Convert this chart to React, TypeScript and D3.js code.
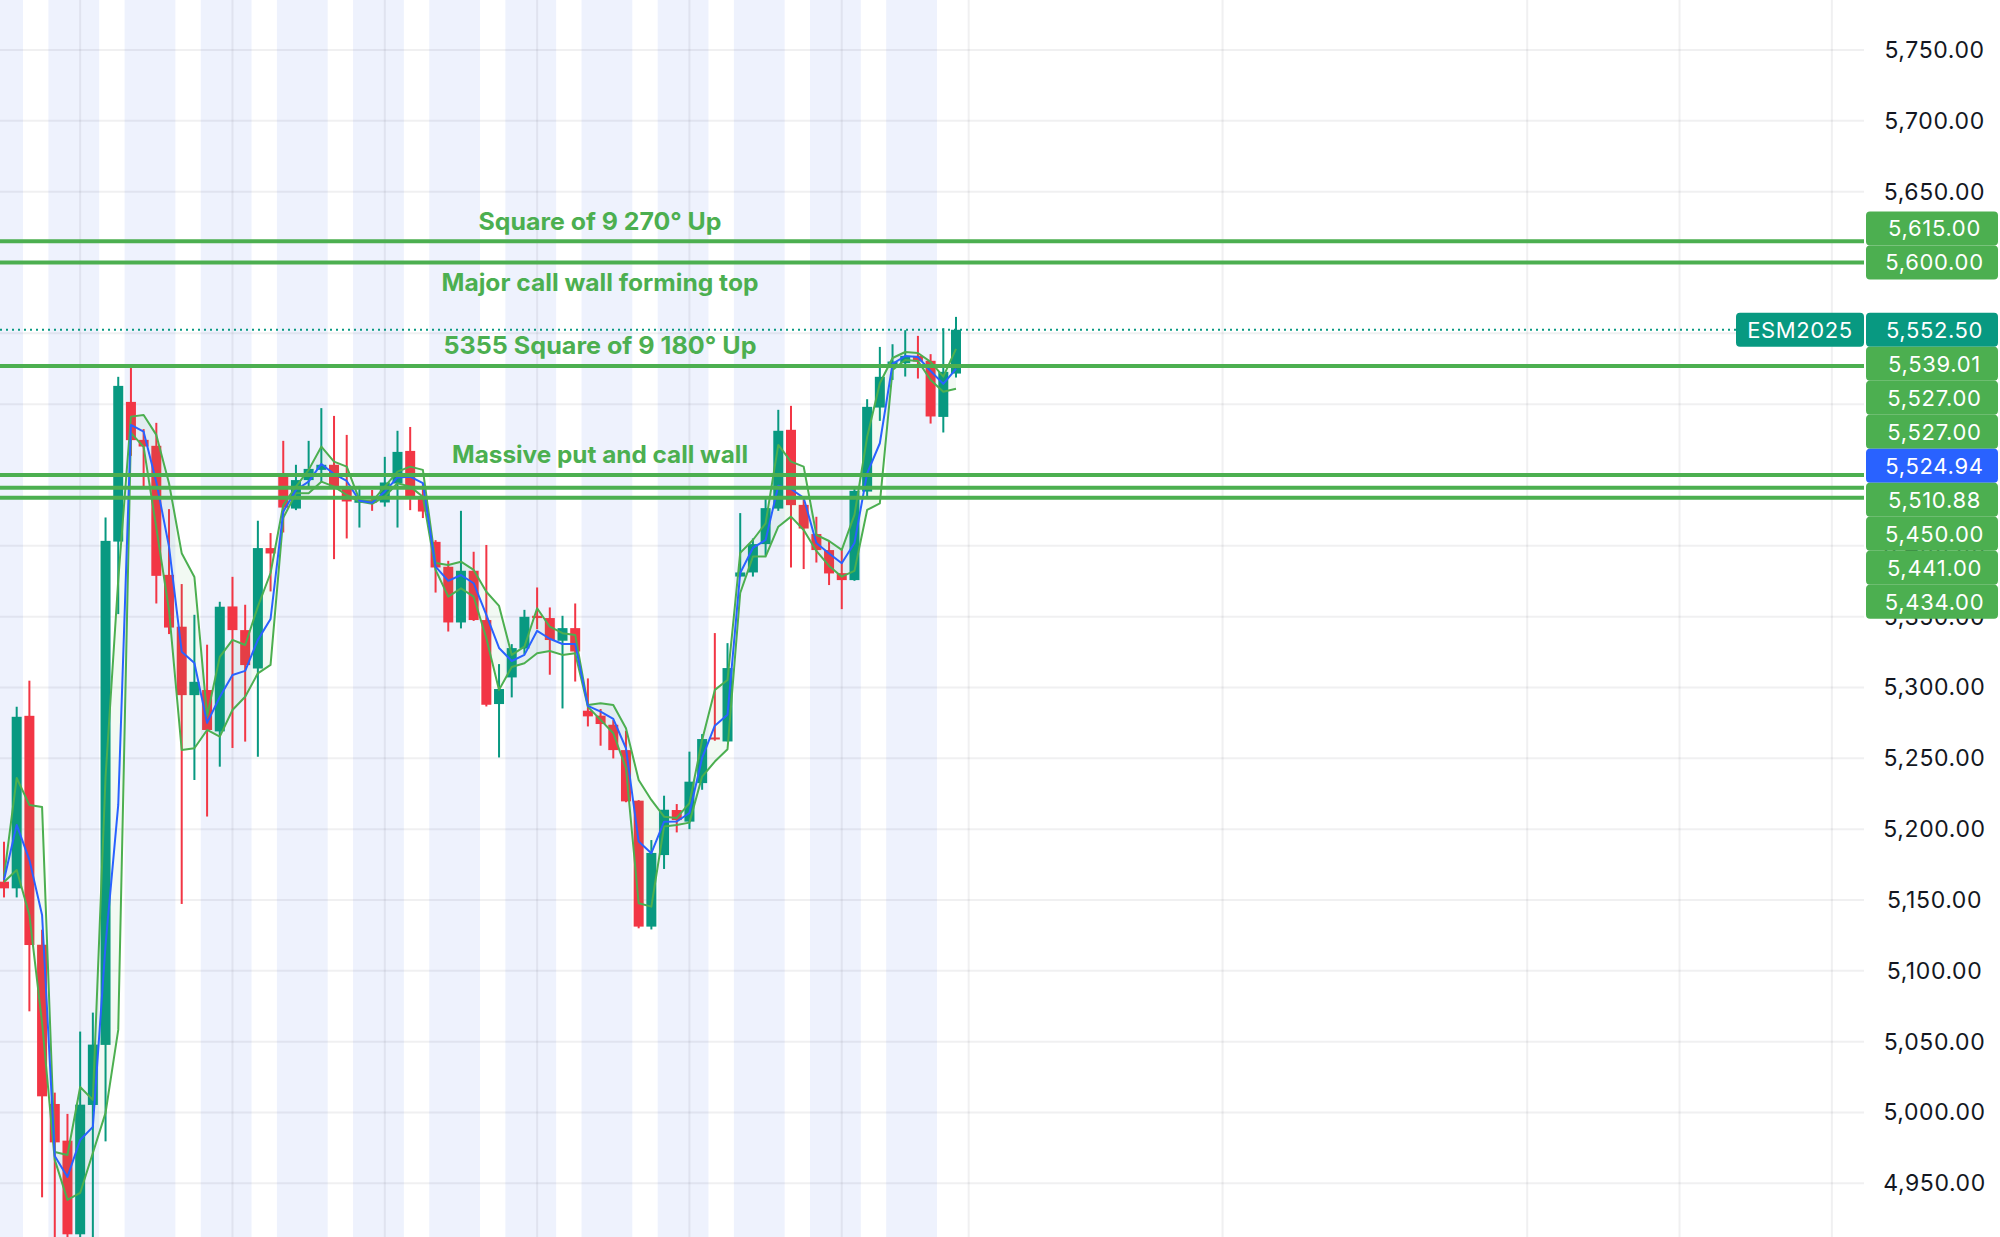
import React from 'react';
import * as d3 from 'd3';

// ---------- DATA ----------
const opens = [5162.9, 5158.2, 5280.0, 5118.4, 5006.0, 4980.1, 4914.0, 5005.3, 5047.7, 5403.0,
  5501.6, 5474.8, 5470.6, 5379.5, 5342.9, 5294.6, 5298.2, 5269.0, 5357.2, 5340.5,
  5313.4, 5398.4, 5451.3, 5426.3, 5446.4, 5453.6, 5457.2, 5441.6, 5430.4, 5432.2,
  5430.6, 5444.0, 5467.0, 5434.6, 5402.8, 5385.2, 5345.9, 5382.4, 5347.6, 5288.3,
  5307.1, 5327.5, 5350.6, 5349.0, 5333.0, 5341.9, 5283.6, 5280.1, 5273.7, 5255.8,
  5220.1, 5131.2, 5181.7, 5213.5, 5205.3, 5232.5, 5264.7, 5261.9, 5378.3, 5381.2,
  5401.2, 5426.3, 5481.9, 5428.9, 5408.3, 5397.0, 5380.7, 5375.8, 5438.3, 5497.6,
  5528.2, 5528.9, 5534.1, 5530.6, 5491.0, 5521.6];
const highs = [5191.1, 5286.4, 5304.8, 5129.0, 5014.0, 4999.0, 5057.1, 5070.5, 5420.0, 5519.3,
  5527.7, 5482.4, 5486.8, 5425.9, 5373.0, 5351.3, 5330.2, 5360.5, 5378.1, 5358.4,
  5417.7, 5409.0, 5474.1, 5457.2, 5474.1, 5497.2, 5491.7, 5478.3, 5442.3, 5439.4,
  5462.8, 5481.2, 5483.9, 5444.0, 5404.0, 5389.4, 5424.7, 5395.8, 5400.6, 5316.5,
  5330.6, 5354.8, 5370.6, 5356.5, 5350.6, 5359.3, 5306.4, 5284.8, 5277.0, 5269.4,
  5220.5, 5192.3, 5223.6, 5217.7, 5254.7, 5267.1, 5338.4, 5331.3, 5423.1, 5405.2,
  5433.7, 5496.0, 5498.8, 5434.6, 5420.5, 5403.5, 5397.7, 5441.1, 5503.5, 5540.4,
  5542.3, 5552.2, 5548.2, 5535.3, 5553.6, 5561.6];
const lows = [5151.8, 5151.8, 5071.4, 4940.1, 4900.0, 4905.0, 4905.0, 4895.0, 4979.6, 5351.8,
  5463.5, 5440.7, 5359.3, 5337.7, 5147.2, 5234.7, 5208.9, 5244.1, 5257.3, 5261.8,
  5251.1, 5367.8, 5409.4, 5425.2, 5441.1, 5444.7, 5390.6, 5405.2, 5412.9, 5424.7,
  5427.7, 5412.9, 5425.2, 5419.6, 5367.0, 5339.5, 5341.7, 5347.0, 5286.6, 5250.6,
  5293.0, 5323.6, 5341.2, 5309.0, 5285.2, 5304.2, 5272.5, 5258.9, 5249.9, 5219.0,
  5130.0, 5129.2, 5171.9, 5197.7, 5200.0, 5227.8, 5262.4, 5261.9, 5378.3, 5378.3,
  5393.0, 5424.7, 5384.7, 5383.6, 5388.2, 5372.3, 5355.3, 5375.3, 5434.1, 5488.2,
  5517.1, 5519.5, 5518.1, 5486.3, 5480.0, 5518.8];
const closes = [5158.2, 5279.3, 5118.2, 5011.4, 4978.9, 4914.0, 5005.5, 5047.9, 5403.5, 5512.9,
  5474.6, 5470.1, 5378.8, 5342.3, 5294.6, 5304.0, 5270.0, 5357.0, 5340.5, 5315.8,
  5398.4, 5394.6, 5427.0, 5446.4, 5454.3, 5457.2, 5441.2, 5431.3, 5432.3, 5430.5,
  5444.7, 5466.3, 5433.4, 5424.2, 5384.7, 5345.9, 5382.4, 5347.6, 5287.8, 5298.9,
  5327.8, 5349.9, 5349.0, 5333.5, 5341.9, 5325.4, 5279.6, 5274.2, 5255.8, 5219.6,
  5131.2, 5183.2, 5213.7, 5206.4, 5233.5, 5263.6, 5263.3, 5313.7, 5381.2, 5401.2,
  5426.6, 5481.2, 5428.7, 5412.2, 5397.0, 5380.5, 5375.8, 5438.8, 5498.1, 5519.3,
  5530.1, 5534.1, 5530.1, 5491.3, 5522.8, 5552.5];

// channel indicator (upper green, blue middle, lower green)
const envTop = [5166.5, 5236.1, 5217.1, 5215.7, 4972.1, 4970.0, 5018.0, 5008.9, 5236.9, 5375.9,
  5491.2, 5492.4, 5478.3, 5444.2, 5394.8, 5378.0, 5279.9, 5321.6, 5333.6, 5330.0,
  5357.1, 5380.8, 5428.8, 5441.8, 5453.6, 5470.0, 5459.4, 5455.9, 5432.4, 5431.2,
  5441.8, 5452.4, 5455.9, 5453.6, 5387.9, 5386.5, 5388.8, 5383.0, 5367.6, 5357.6,
  5323.0, 5328.8, 5355.9, 5342.9, 5338.3, 5337.1, 5287.7, 5288.9, 5287.7, 5271.2,
  5234.7, 5220.6, 5208.8, 5207.9, 5218.3, 5263.0, 5298.3, 5305.3, 5395.0, 5404.1,
  5415.9, 5471.2, 5459.4, 5455.9, 5407.7, 5403.4, 5397.1, 5421.8, 5476.8, 5514.8,
  5532.6, 5536.8, 5536.1, 5529.8, 5519.4, 5539.01];
const envMid = [5164.1, 5203.0, 5178.3, 5139.4, 4969.3, 4954.5, 4980.6, 4989.8, 5118.3, 5217.1,
  5485.3, 5480.6, 5445.1, 5399.4, 5325.3, 5317.3, 5275.0, 5293.3, 5308.8, 5311.7,
  5333.6, 5348.4, 5424.1, 5439.4, 5445.3, 5457.8, 5450.7, 5445.8, 5431.8, 5430.4,
  5438.2, 5448.3, 5448.8, 5444.2, 5385.3, 5375.3, 5379.4, 5373.6, 5351.2, 5327.9,
  5318.7, 5323.0, 5340.0, 5334.4, 5330.7, 5330.7, 5287.0, 5282.9, 5277.8, 5257.1,
  5191.2, 5183.0, 5205.3, 5205.4, 5211.4, 5250.3, 5273.0, 5280.8, 5380.8, 5398.5,
  5404.1, 5442.4, 5440.1, 5433.8, 5402.0, 5394.6, 5387.7, 5402.0, 5451.1, 5472.4,
  5528.4, 5534.0, 5533.3, 5523.4, 5514.3, 5524.94];
const envBot = [5162.7, 5171.2, 5139.4, 5063.2, 4966.5, 4938.3, 4943.2, 4971.4, 4999.7, 5058.3,
  5479.7, 5469.8, 5412.6, 5354.7, 5255.9, 5257.1, 5270.0, 5265.3, 5284.1, 5293.5,
  5310.0, 5315.9, 5419.7, 5437.1, 5437.1, 5445.3, 5441.8, 5435.9, 5431.2, 5429.6,
  5434.7, 5444.2, 5441.8, 5434.7, 5383.0, 5364.1, 5370.0, 5364.1, 5334.8, 5298.3,
  5314.5, 5317.1, 5324.2, 5325.8, 5323.0, 5324.2, 5286.3, 5277.1, 5267.7, 5243.0,
  5147.7, 5145.3, 5201.8, 5203.0, 5204.6, 5237.1, 5247.7, 5256.4, 5366.7, 5392.4,
  5392.4, 5413.5, 5420.6, 5411.2, 5396.4, 5385.8, 5378.2, 5382.3, 5425.3, 5430.0,
  5524.1, 5531.2, 5530.5, 5517.1, 5508.8, 5510.88];

const priceTicks = [5750, 5700, 5650, 5600, 5550, 5500, 5450, 5400, 5350, 5300, 5250, 5200, 5150, 5100, 5050, 5000, 4950];
const timeGridBars = [6, 18, 30, 42, 54, 66, 76, 96, 120, 132, 144];
const sessionStartBars = [-2.5, 3.5, 9.5, 15.5, 21.5, 27.5, 33.5, 39.5, 45.5, 51.5, 57.5, 63.5, 69.5];
const sessionLengthBars = 4;

const levelLines = [5615, 5600, 5527, 5527, 5450, 5441, 5434];
const symbolName = 'ESM2025';
const lastPrice = 5552.5;

const annoTexts = ['Square of 9 270° Up', 'Major call wall forming top', '5355 Square of 9 180° Up', 'Massive put and call wall'];
const annoLevels = [5615, 5600, 5527, 5450];
const annoSide = [-1, 1, -1, -1];
const annoWidths = [243, 317, 313, 296];

// ---------- STYLE ----------
const UP = '#089981';
const DOWN = '#F23645';
const GREEN = '#4CAF50';
const BLUE = '#2962FF';
const FONT = 'Inter, "Noto Sans", sans-serif';

export default function App() {
  const W = 2000, H = 1237;
  const plotRight = 1864;
  const x = d3.scaleLinear().domain([0, 75]).range([4, 956]);
  const y = d3.scaleLinear().domain([4950, 5750]).range([1183.3, 50]);
  const idx = d3.range(opens.length);
  const fmt = d3.format(',.2f');

  const lineOf = (arr: number[]) => d3.line<number>().x(i => x(i)).y(i => y(arr[i]))(idx) || '';
  const areaPath = d3.area<number>().x(i => x(i)).y0(i => y(envBot[i])).y1(i => y(envTop[i]))(idx) || '';

  // axis labels layout (stacked around last price)
  const LH = 34;
  const lastY = y(lastPrice);
  const n = envTop.length - 1;
  const items: { price: number; color: string; cy: number }[] = [
    ...levelLines.map(p => ({ price: p, color: GREEN, cy: 0 })),
    { price: envTop[n], color: GREEN, cy: 0 },
    { price: envMid[n], color: BLUE, cy: 0 },
    { price: envBot[n], color: GREEN, cy: 0 },
  ];
  const above = items.filter(d => d.price > lastPrice).sort((a, b) => a.price - b.price);
  let prev = lastY;
  above.forEach(d => { d.cy = Math.min(y(d.price), prev - LH); prev = d.cy; });
  const below = items.filter(d => d.price <= lastPrice).sort((a, b) => b.price - a.price);
  prev = lastY;
  below.forEach(d => { d.cy = Math.max(y(d.price), prev + LH); prev = d.cy; });

  const boxCenters = [lastY, ...above.map(d => d.cy), ...below.map(d => d.cy)];
  const visibleTicks = priceTicks.filter(p => boxCenters.every(c => Math.abs(y(p) - c) > LH / 2 - 6));

  const axisCx = 1934.5;

  return (
    <div style={{ position: 'absolute', left: 0, top: 0, width: W, height: H, overflow: 'hidden', background: '#fff' }}>
      <svg width={W} height={H} style={{ display: 'block' }}>
        <defs>
          <clipPath id="plot"><rect x={0} y={0} width={plotRight} height={H} /></clipPath>
        </defs>
        <rect x={0} y={0} width={W} height={H} fill="#fff" />
        <g clipPath="url(#plot)">
          {sessionStartBars.map((s, i) => (
            <rect key={'s' + i} x={x(s)} y={0} width={x(s + sessionLengthBars) - x(s)} height={H} fill="#EEF2FD" />
          ))}
          {priceTicks.map(p => (
            <line key={'h' + p} x1={0} x2={plotRight} y1={y(p)} y2={y(p)} stroke="rgba(42,46,57,0.07)" strokeWidth={2} />
          ))}
          {timeGridBars.map(b => (
            <line key={'v' + b} x1={x(b)} x2={x(b)} y1={0} y2={H} stroke="rgba(42,46,57,0.07)" strokeWidth={2} />
          ))}
          {/* candles */}
          {idx.map(i => {
            const o = opens[i], c = closes[i];
            const col = c >= o ? UP : DOWN;
            const top = y(Math.max(o, c));
            const h = Math.max(2, Math.abs(y(o) - y(c)));
            return (
              <g key={'c' + i}>
                <rect x={x(i) - 1} y={y(highs[i])} width={2} height={y(lows[i]) - y(highs[i])} fill={col} />
                <rect x={x(i) - 5} y={top} width={10} height={h} fill={col} />
              </g>
            );
          })}
          {/* indicator channel */}
          <path d={areaPath} fill="rgba(76,175,80,0.07)" stroke="none" />
          <path d={lineOf(envTop)} fill="none" stroke={GREEN} strokeWidth={2} strokeLinejoin="round" />
          <path d={lineOf(envBot)} fill="none" stroke={GREEN} strokeWidth={2} strokeLinejoin="round" />
          <path d={lineOf(envMid)} fill="none" stroke={BLUE} strokeWidth={2} strokeLinejoin="round" />
          {/* level lines */}
          {levelLines.map((p, i) => (
            <line key={'l' + i} x1={0} x2={plotRight} y1={y(p)} y2={y(p)} stroke={GREEN} strokeWidth={4} />
          ))}
          {/* last price dotted line */}
          <line x1={0} x2={1736} y1={lastY} y2={lastY} stroke={UP} strokeWidth={2} strokeDasharray="2 4" />
          {/* annotations */}
          {annoTexts.map((t, i) => (
            <text key={'a' + i} x={600} y={y(annoLevels[i]) + annoSide[i] * 20} textAnchor="middle" dominantBaseline="central"
              fontFamily={FONT} fontWeight={700} fontSize={24} fill={GREEN}
              textLength={annoWidths[i]} lengthAdjust="spacingAndGlyphs">{t}</text>
          ))}
        </g>
        {/* price axis */}
        {visibleTicks.map(p => (
          <text key={'t' + p} x={axisCx} y={y(p)} textAnchor="middle" dominantBaseline="central"
            fontFamily={FONT} fontSize={23} letterSpacing={0.6} fill="#131722">{fmt(p)}</text>
        ))}
        {/* symbol label */}
        <rect x={1736} y={lastY - LH / 2} width={128} height={LH} rx={4} fill={UP} />
        <text x={1800} y={lastY} textAnchor="middle" dominantBaseline="central" fontFamily={FONT} fontSize={22} letterSpacing={0.6} fill="#fff">{symbolName}</text>
        <rect x={1866} y={lastY - LH / 2} width={132} height={LH} rx={4} fill={UP} />
        <text x={axisCx} y={lastY} textAnchor="middle" dominantBaseline="central" fontFamily={FONT} fontSize={22} letterSpacing={0.6} fill="#fff">{fmt(lastPrice)}</text>
        {[...above, ...below].map((d, i) => (
          <g key={'pl' + i}>
            <rect x={1866} y={d.cy - LH / 2} width={132} height={LH} rx={4} fill={d.color} />
            <text x={axisCx} y={d.cy} textAnchor="middle" dominantBaseline="central" fontFamily={FONT} fontSize={22} letterSpacing={0.7} fill="#fff">{fmt(d.price)}</text>
          </g>
        ))}
      </svg>
    </div>
  );
}
